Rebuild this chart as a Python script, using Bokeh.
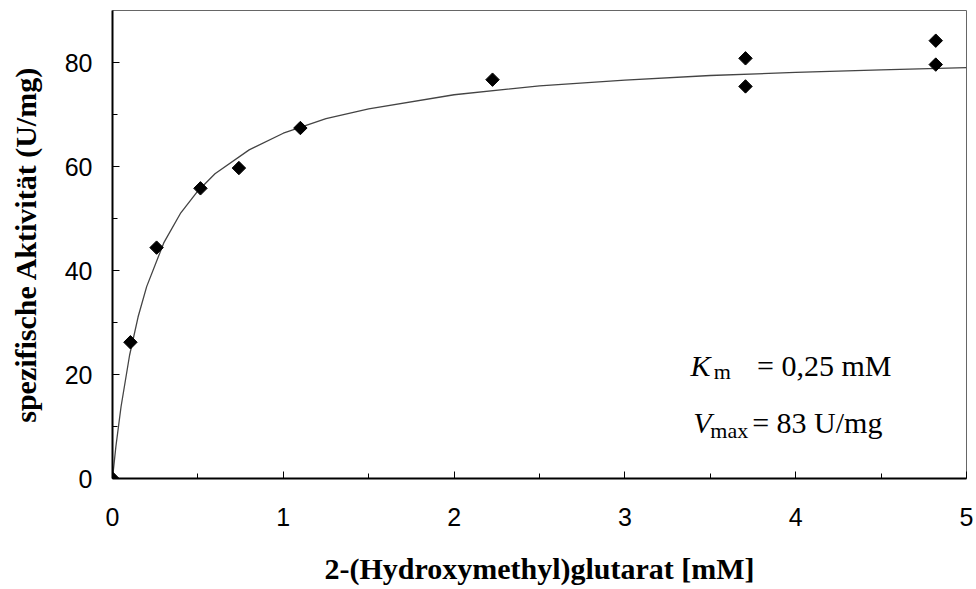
from bokeh.plotting import figure
from bokeh.models import FixedTicker, Range1d, Label
from bokeh.embed import file_html
from bokeh.resources import INLINE
import math

# measured points
conc = [0.0, 0.105, 0.258, 0.515, 0.74, 1.10, 2.225, 3.706, 3.706, 4.82, 4.82]
activity = [0.0, 26.2, 44.4, 55.8, 59.7, 67.4, 76.7, 80.8, 75.4, 84.2, 79.6]

# fitted curve
curve_x = [0.0, 0.02, 0.05, 0.1, 0.15, 0.2, 0.3, 0.4, 0.5, 0.6, 0.8, 1.0,
           1.25, 1.5, 2.0, 2.5, 3.0, 3.5, 4.0, 4.5, 5.0]
curve_y = [0.0, 6.2, 13.8, 23.7, 31.1, 36.9, 45.3, 51.1, 55.3, 58.6, 63.2, 66.4,
           69.2, 71.1, 73.8, 75.5, 76.6, 77.5, 78.1, 78.6, 79.0]

x_ticks = [0, 1, 2, 3, 4, 5]
x_minor = [0.5, 1.5, 2.5, 3.5, 4.5]
y_ticks = [0, 20, 40, 60, 80]
y_minor = [10, 30, 50, 70]

p = figure(width=976, height=589, output_backend="svg", toolbar_location=None,
           x_range=Range1d(0, 5), y_range=Range1d(0, 90),
           min_border_left=112, min_border_right=10,
           min_border_top=10, min_border_bottom=111)

p.background_fill_color = "white"
p.border_fill_color = "white"
p.outline_line_color = "#666666"
p.outline_line_width = 1
p.xgrid.visible = False
p.ygrid.visible = False

p.line(curve_x, curve_y, line_color="#444444", line_width=1.3)
p.scatter(conc, activity, marker="square", angle=math.pi / 4, size=9.5,
          fill_color="black", line_color="black")

p.xaxis.ticker = FixedTicker(ticks=x_ticks, minor_ticks=x_minor)
p.yaxis.ticker = FixedTicker(ticks=y_ticks, minor_ticks=y_minor)

for ax in (p.xaxis[0], p.yaxis[0]):
    ax.axis_line_width = 2
    ax.axis_line_color = "black"
    ax.major_tick_in = 7
    ax.major_tick_out = 0
    ax.minor_tick_in = 5
    ax.minor_tick_out = 0
    ax.major_tick_line_color = "black"
    ax.minor_tick_line_color = "black"
    ax.major_label_text_font = "Liberation Sans"
    ax.major_label_text_font_size = "25px"
    ax.major_label_text_color = "black"
    ax.axis_label_text_font = "Liberation Serif"
    ax.axis_label_text_font_style = "bold"
    ax.axis_label_text_font_size = "30px"
    ax.axis_label_text_color = "black"

p.xaxis.axis_label = "2-(Hydroxymethyl)glutarat [mM]"
p.yaxis.axis_label = "spezifische Aktivität (U/mg)"
p.xaxis.major_label_standoff = 29
p.yaxis.major_label_standoff = 20
p.xaxis.axis_label_standoff = 23
p.yaxis.axis_label_standoff = 20

def lab(x, y, t, size, style="normal"):
    p.add_layout(Label(x=x, y=y, text=t, text_font="Liberation Serif",
                       text_font_size=size, text_font_style=style,
                       text_color="black", text_baseline="alphabetic",
                       text_align="left"))

lab(3.384, 21.7, "K", "30px", "italic")
lab(3.52, 20.6, "m", "22px")
lab(3.774, 21.7, "= 0,25 mM", "30px")
lab(3.40, 10.8, "V", "30px", "italic")
lab(3.50, 9.2, "max", "22px")
lab(3.745, 10.8, "= 83 U/mg", "30px")

open("out.html", "w").write(file_html(p, INLINE))
